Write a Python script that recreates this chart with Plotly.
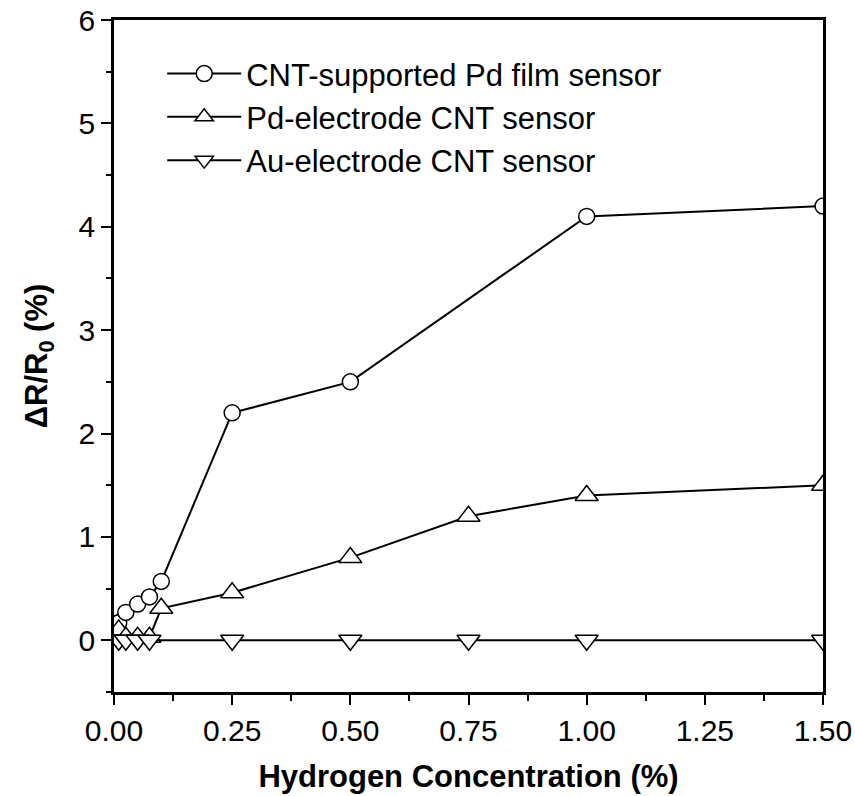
import plotly.graph_objects as go

# Data
x_cnt_pd = [0.01, 0.025, 0.05, 0.075, 0.1, 0.25, 0.5, 1.0, 1.5]
y_cnt_pd = [0.17, 0.27, 0.35, 0.42, 0.57, 2.2, 2.5, 4.1, 4.2]

x_pd_el = [0.01, 0.025, 0.05, 0.075, 0.1, 0.25, 0.5, 0.75, 1.0, 1.5]
y_pd_el = [0.1, 0.03, 0.03, 0.03, 0.31, 0.46, 0.8, 1.2, 1.4, 1.5]

x_au_el = [0.01, 0.025, 0.05, 0.075, 0.25, 0.5, 0.75, 1.0, 1.5]
y_au_el = [0.0, 0.0, 0.0, 0.0, 0.0, 0.0, 0.0, 0.0, 0.0]

names = ["CNT-supported Pd film sensor", "Pd-electrode CNT sensor", "Au-electrode CNT sensor"]

x_tickvals = [0.0, 0.25, 0.5, 0.75, 1.0, 1.25, 1.5]
x_ticktext = ["0.00", "0.25", "0.50", "0.75", "1.00", "1.25", "1.50"]
y_tickvals = [0, 1, 2, 3, 4, 5, 6]
y_ticktext = ["0", "1", "2", "3", "4", "5", "6"]

FONT = "Liberation Sans, Arial, sans-serif"

fig = go.Figure()
series = [
    (x_cnt_pd, y_cnt_pd, "circle", 16),
    (x_pd_el, y_pd_el, "triangle-up", 20),
    (x_au_el, y_au_el, "triangle-down", 20),
]
for (xs, ys, sym, sz), nm in zip(series, names):
    fig.add_trace(go.Scatter(
        x=xs, y=ys, name=nm, mode="lines+markers",
        line=dict(color="black", width=2),
        marker=dict(symbol=sym, size=sz, color="white",
                    line=dict(color="black", width=1.5)),
    ))

fig.update_layout(
    width=855, height=796,
    margin=dict(l=114, r=32, t=20, b=104),
    paper_bgcolor="white", plot_bgcolor="white",
    font=dict(family=FONT, size=30, color="black"),
    showlegend=True,
    legend=dict(x=0.068, y=0.96, xanchor="left", yanchor="top",
                bgcolor="rgba(0,0,0,0)", font=dict(size=31),
                itemwidth=74, tracegroupgap=0),
)
fig.update_xaxes(
    range=[0, 1.5], tickvals=x_tickvals, ticktext=x_ticktext,
    automargin=False,
    showgrid=False, zeroline=False,
    showline=True, linecolor="black", linewidth=2.5, mirror=True,
    ticks="outside", ticklen=10, tickwidth=2, tickcolor="black",
    minor=dict(dtick=0.125, tick0=0, ticks="outside", ticklen=6, tickwidth=2, tickcolor="black"),
    tickfont=dict(size=30),
    title=dict(text="<b>Hydrogen Concentration (%)</b>", font=dict(size=31), standoff=20),
)
fig.update_yaxes(
    range=[-0.5, 6], tickvals=y_tickvals, ticktext=y_ticktext,
    automargin=False,
    showgrid=False, zeroline=False,
    showline=True, linecolor="black", linewidth=2.5, mirror=True,
    ticks="outside", ticklen=10, tickwidth=2, tickcolor="black",
    minor=dict(dtick=0.5, tick0=0, ticks="outside", ticklen=5, tickwidth=2, tickcolor="black"),
    tickfont=dict(size=30),
    title=dict(text="<b>ΔR/R<sub>0</sub> (%)</b>", font=dict(size=31), standoff=22),
)

fig.write_html("out.html")
